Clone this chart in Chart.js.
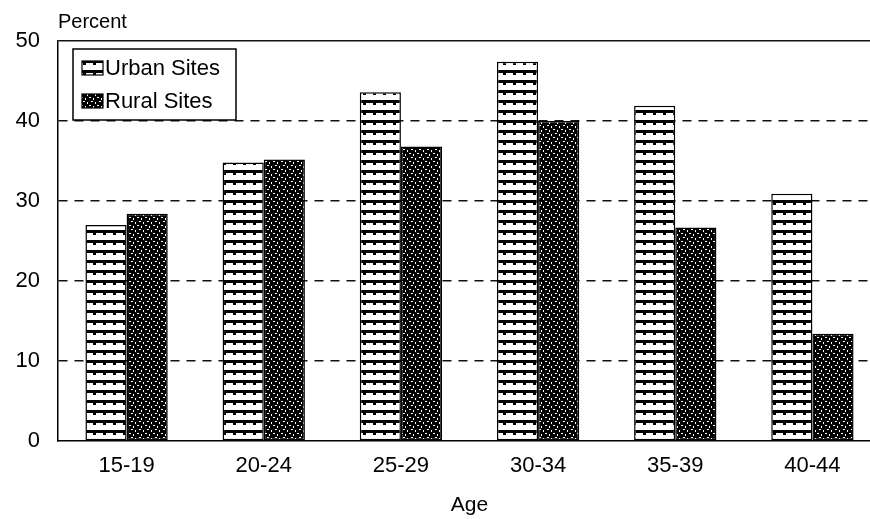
<!DOCTYPE html>
<html>
<head>
<meta charset="utf-8">
<script src="https://cdn.jsdelivr.net/npm/chart.js@4/dist/chart.umd.min.js"></script>
<style>
  html, body { margin: 0; padding: 0; background: #fff; overflow: hidden; }
  #wrap { width: 900px; height: 519px; }
</style>
</head>
<body>
<div id="wrap"><canvas id="chart" width="900" height="519"></canvas></div>
<script>
"use strict";

// values
var ageGroups = ['15-19', '20-24', '25-29', '30-34', '35-39', '40-44'];
var urbanSites = [27.0, 34.8, 43.6, 47.4, 41.9, 30.9];
var ruralSites = [28.4, 35.2, 36.8, 40.0, 26.7, 13.4];
var seriesNames = ['Urban Sites', 'Rural Sites'];
var yMin = 0, yMax = 50, yStep = 10;

var FONT = '"Liberation Sans", Arial, sans-serif';

function makePattern(size, paint) {
  var c = document.createElement('canvas');
  c.width = size[0];
  c.height = size[1];
  var g = c.getContext('2d');
  paint(g);
  return document.getElementById('chart').getContext('2d').createPattern(c, 'repeat');
}

// white with black scalloped stripes
var urbanFill = makePattern([10, 10], function(g) {
  g.fillStyle = '#fff';
  g.fillRect(0, 0, 10, 10);
  g.fillStyle = '#000';
  g.fillRect(0, 0, 10, 3);
  g.fillRect(3, 3, 3, 2);
});

// black with white speckles
var ruralFill = makePattern([8, 8], function(g) {
  g.fillStyle = '#000';
  g.fillRect(0, 0, 8, 8);
  g.fillStyle = '#fff';
  g.fillRect(1, 1, 2, 1);
  g.fillRect(5, 2, 1, 2);
  g.fillRect(3, 5, 2, 1);
  g.fillRect(7, 6, 1, 2);
});

var textPlugin = {
  id: 'extraText',
  afterDraw: function(chart) {
    var ctx = chart.ctx;
    var area = chart.chartArea;
    ctx.save();
    ctx.fillStyle = '#000';
    ctx.textBaseline = 'alphabetic';
    ctx.font = '20px ' + FONT;
    ctx.textAlign = 'left';
    ctx.fillText('Percent', 58, 28);
    ctx.font = '21px ' + FONT;
    ctx.textAlign = 'center';
    ctx.fillText('Age', (area.left + area.right) / 2, 511);
    ctx.restore();
  }
};

var legendPlugin = {
  id: 'boxLegend',
  afterDatasetsDraw: function(chart) {
    var ctx = chart.ctx;
    ctx.save();
    ctx.fillStyle = '#fff';
    ctx.fillRect(73, 49, 163, 71);
    ctx.strokeStyle = '#000';
    ctx.lineWidth = 1.5;
    ctx.strokeRect(73, 49, 163, 71);
    chart.data.datasets.forEach(function(ds, i) {
      var y = 61 + i * 33;
      ctx.fillStyle = ds.backgroundColor;
      ctx.fillRect(82, y, 21, 14);
      ctx.lineWidth = 1.2;
      ctx.strokeRect(82, y, 21, 14);
      ctx.fillStyle = '#000';
      ctx.font = '22px ' + FONT;
      ctx.textAlign = 'left';
      ctx.textBaseline = 'middle';
      ctx.fillText(ds.label, 105, y + 7.5);
    });
    ctx.restore();
  }
};

new Chart(document.getElementById('chart'), {
  type: 'bar',
  data: {
    labels: ageGroups,
    datasets: [
      { label: seriesNames[0], data: urbanSites, backgroundColor: urbanFill,
        borderColor: '#000', borderWidth: 1.5, borderSkipped: false },
      { label: seriesNames[1], data: ruralSites, backgroundColor: ruralFill,
        borderColor: '#000', borderWidth: 1.5, borderSkipped: false }
    ]
  },
  options: {
    responsive: false,
    animation: false,
    devicePixelRatio: 1,
    layout: { padding: { top: 41, right: 19, left: 0, bottom: 0 } },
    datasets: { bar: { categoryPercentage: 0.6, barPercentage: 1.0 } },
    plugins: { legend: { display: false }, tooltip: { enabled: false } },
    scales: {
      x: {
        grid: { display: false, drawTicks: false },
        border: { display: true, color: '#000', width: 1.5 },
        ticks: { color: '#000', font: { family: FONT, size: 22 }, padding: 12, maxRotation: 0 },
        afterFit: function(scale) { scale.height = 78; }
      },
      y: {
        min: yMin,
        max: yMax,
        grid: {
          drawTicks: false,
          color: function(ctx) {
            if (!ctx.tick) return '#000';
            return ctx.tick.value === yMin ? 'rgba(0,0,0,0)' : '#111';
          },
          lineWidth: 1.4
        },
        border: {
          display: true, color: '#000', width: 1.5,
          dash: function(ctx) {
            return ctx.tick && ctx.tick.value > yMin && ctx.tick.value < yMax ? [9, 7] : [];
          }
        },
        ticks: { stepSize: yStep, color: '#000', font: { family: FONT, size: 22 }, padding: 18 },
        afterFit: function(scale) { scale.width = 58; }
      }
    }
  },
  plugins: [legendPlugin, textPlugin]
});
</script>
</body>
</html>
